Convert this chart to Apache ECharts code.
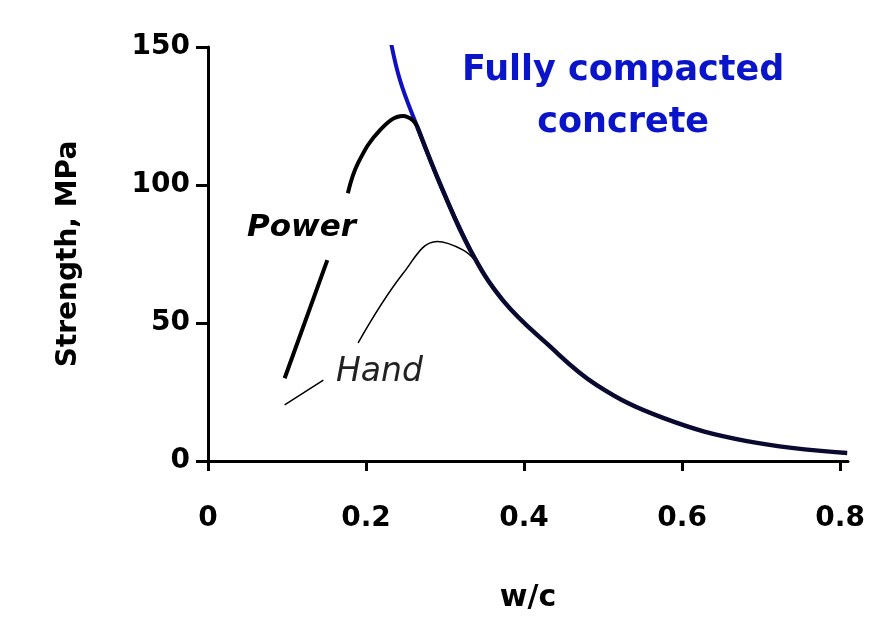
<!DOCTYPE html>
<html>
<head>
<meta charset="utf-8">
<script src="https://cdn.jsdelivr.net/npm/echarts@6/dist/echarts.min.js"></script>
<style>html,body{margin:0;padding:0;background:#fff}#main{width:877px;height:637px}</style>
</head>
<body>
<div id="main"></div>
<script>
var xTicks = [0, 0.2, 0.4, 0.6, 0.8];
var fullyBlue = [[0.230,154],[0.243,138],[0.265,121],[0.297,98],[0.332,76.4]];
var fullyBlack = [[0.265,121],[0.297,98.2],[0.332,76.4],[0.373,58.3],[0.429,42.5],[0.492,27.5],[0.576,15.6],[0.682,7.2],[0.809,2.9]];
var powerData = [[0.097,30],[0.151,72.8],[0.164,null],[0.177,97],[0.19,108],[0.218,120],[0.247,125],[0.259,123.5],[0.265,121]];
var handData = [[0.097,20.3],[0.146,29.3],[0.17,null],[0.19,42.8],[0.247,68],[0.29,79.5],[0.323,76.4],[0.34,72]];

var dom = document.getElementById("main");
var myChart = echarts.init(dom);
var lblFont = {fontFamily:'DejaVu Sans', fontWeight:'bold', fontSize:28, color:'#000'};
var option = {
    animation: false,
    grid: {left:208, right:29, top:47, bottom:176},
    xAxis: {
        type:'value', min:0, max:0.81, interval:0.2,
        name:'w/c', nameLocation:'middle', nameGap:122,
        nameTextStyle: {fontFamily:'DejaVu Sans', fontWeight:'bold', fontSize:30, color:'#000'},
        axisLine:{lineStyle:{color:'#000', width:3}},
        axisTick:{length:10, lineStyle:{color:'#000', width:3}},
        axisLabel: Object.assign({margin:44, showMaxLabel:false, formatter:function(v){return xTicks.indexOf(Math.round(v*10)/10)>=0 ? String(Math.round(v*10)/10) : '';}}, lblFont),
        splitLine:{show:false}
    },
    yAxis: {
        type:'value', min:0, max:150, interval:50,
        name:'Strength, MPa', nameLocation:'middle', nameGap:125, nameRotate:90,
        nameTextStyle: {fontFamily:'DejaVu Sans', fontWeight:'bold', fontSize:28, color:'#000'},
        axisLine:{show:true, lineStyle:{color:'#000', width:3}},
        axisTick:{show:true, length:12, lineStyle:{color:'#000', width:3}},
        axisLabel: Object.assign({margin:18}, lblFont),
        splitLine:{show:false}
    },
    series: [
        {name:'blue', type:'line', data:fullyBlue, smooth:0.4, showSymbol:false, clip:true,
         lineStyle:{color:'#1010c0', width:4}},
        {name:'Power', type:'line', data:powerData, smooth:0.4, showSymbol:false, connectNulls:false,
         lineStyle:{color:'#000', width:4}},
        {name:'Hand', type:'line', data:handData, smooth:0.4, showSymbol:false, connectNulls:false,
         lineStyle:{color:'#000', width:1.5}},
        {name:'Fully compacted concrete', type:'line', data:fullyBlack, smooth:0.4, showSymbol:false,
         lineStyle:{color:'#0a0a30', width:4.5}}
    ],
    graphic: [
        {type:'text', left:462, top:45, style:{text:'Fully compacted\nconcrete', textAlign:'center', fill:'#0a14c8',
            font:'bold 35px "DejaVu Sans"', lineHeight:52}},
        {type:'text', left:247, top:212, style:{text:'Power', fill:'#000', font:'italic bold 31px "DejaVu Sans"'}},
        {type:'text', left:336, top:356, style:{text:'Hand', fill:'#222', font:'italic 33px "DejaVu Sans"'}}
    ]
};
if (option && typeof option === "object") {
    myChart.setOption(option, true);
}
</script>
</body>
</html>
